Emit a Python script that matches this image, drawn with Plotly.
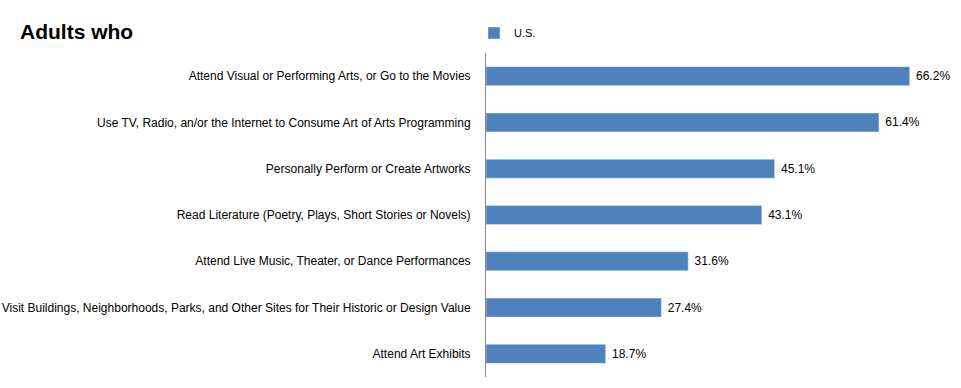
import plotly.graph_objects as go

categories = [
    "Attend Visual or Performing Arts, or Go to the Movies",
    "Use TV, Radio, an/or the Internet to Consume Art of Arts Programming",
    "Personally Perform or Create Artworks",
    "Read Literature (Poetry, Plays, Short Stories or Novels)",
    "Attend Live Music, Theater, or Dance Performances",
    "Visit Buildings, Neighborhoods, Parks, and Other Sites for Their Historic or Design Value",
    "Attend Art Exhibits",
]
values = [66.2, 61.4, 45.1, 43.1, 31.6, 27.4, 18.7]
series_name = "U.S."
title_text = "Adults who"

FONT = "Liberation Sans, Arial, sans-serif"

fig = go.Figure()
fig.add_trace(go.Bar(
    y=categories,
    x=values,
    orientation="h",
    name=series_name,
    marker=dict(color="#4F81BD"),
    text=["\u00a0" + f"{v:.1f}%" for v in values],
    textposition="outside",
    textfont=dict(family=FONT, size=12, color="#000000"),
    cliponaxis=False,
    width=0.41,
    showlegend=True,
))

fig.update_layout(
    width=961,
    height=388,
    margin=dict(l=486, r=27, t=53, b=11, autoexpand=False),
    plot_bgcolor="white",
    paper_bgcolor="white",
    font=dict(family=FONT, size=11, color="#000000"),
    title=dict(
        text=f"<b>{title_text}</b>",
        x=20 / 961, xanchor="left", xref="container",
        y=1 - 32 / 388, yanchor="middle", yref="container",
        font=dict(size=21, color="#000000", family=FONT),
    ),
    legend=dict(
        xref="container", yref="container",
        x=474 / 961, xanchor="left", y=1 - 33 / 388, yanchor="middle",
        orientation="h",
        font=dict(size=11, color="#000000"),
        itemwidth=30,
        bgcolor="rgba(0,0,0,0)",
    ),
    xaxis=dict(
        range=[0, 70.0],
        showgrid=False, showticklabels=False, zeroline=False,
        showline=False, ticks="",
    ),
    yaxis=dict(
        categoryorder="array",
        categoryarray=list(reversed(categories)),
        showline=True, linecolor="#868686", linewidth=1,
        showgrid=False, ticks="", ticklen=0,
        ticklabelstandoff=12,
        tickfont=dict(size=12, color="#000000", family=FONT),
        automargin=False,
    ),
    bargap=0.59,
)

fig.write_html(
    "out.html",
    config={"displayModeBar": False},
    post_script="document.body.style.margin='0';document.body.style.padding='0';",
)
